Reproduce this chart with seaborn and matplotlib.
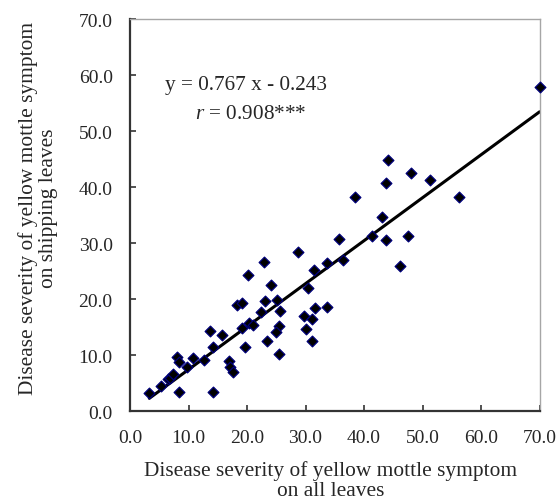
import numpy as np
import pandas as pd
import matplotlib
matplotlib.use("Agg")
import matplotlib.pyplot as plt
import seaborn as sns

# severity on all leaves (x) vs on shipping leaves (y)
all_leaves = [3.3, 5.3, 6.5, 6.8, 7.3, 8.4, 8.0, 8.4, 9.7, 10.7,
              12.7, 13.7, 14.1, 15.7, 14.1, 17.0, 17.1, 17.6, 18.3, 19.1,
              23.0, 25.1, 22.4, 25.7, 19.2, 20.4, 21.1, 25.4, 25.0, 23.4,
              19.7, 25.4, 31.7, 33.7, 29.7, 31.1, 30.1, 31.1, 28.7, 22.9,
              20.1, 24.1, 31.4, 33.7, 30.4, 44.1, 48.1, 51.2, 43.7, 38.4,
              43.1, 35.8, 41.4, 43.7, 47.5, 36.4, 46.1, 56.2, 70.0]
shipping_leaves = [3.2, 4.5, 5.7, 6.0, 6.6, 3.5, 9.6, 8.8, 7.8, 9.5,
                   9.2, 14.3, 11.5, 13.6, 3.5, 8.9, 7.8, 6.9, 19.0, 19.3,
                   19.6, 19.8, 17.7, 17.8, 14.9, 15.8, 15.4, 15.2, 14.2, 12.6,
                   11.5, 10.2, 18.5, 18.6, 16.9, 16.5, 14.6, 12.6, 28.5, 26.7,
                   24.3, 22.5, 25.2, 26.4, 22.0, 44.9, 42.6, 41.2, 40.7, 38.3,
                   34.7, 30.7, 31.2, 30.6, 31.2, 27.0, 25.9, 38.2, 57.8]

slope = 0.767
intercept = -0.243
r_value = 0.908
ticks = np.arange(0, 71, 10)

df = pd.DataFrame({"x": all_leaves, "y": shipping_leaves})
x_fit = np.array([min(all_leaves), max(all_leaves)])
fit = pd.DataFrame({"x": x_fit, "y": slope * x_fit + intercept})

sns.set_style("white")
plt.rcParams["font.family"] = ["Liberation Serif", "DejaVu Serif"]
plt.rcParams["mathtext.fontset"] = "custom"
plt.rcParams["mathtext.rm"] = "Liberation Serif"
plt.rcParams["mathtext.it"] = "Liberation Serif:italic"

fig = plt.figure(figsize=(5.58, 5.02), dpi=100)
ax = fig.add_axes([0.233, 0.179, 0.734, 0.781])

sns.lineplot(data=fit, x="x", y="y", color="black", linewidth=2.2, ax=ax)
sns.scatterplot(data=df, x="x", y="y", marker="D", s=30, color="#000000",
                edgecolor="#00007a", linewidth=0.9, zorder=3, clip_on=False, ax=ax)

ax.set_xlim(0, 70)
ax.set_ylim(0, 70)
ax.set_xticks(ticks)
ax.set_yticks(ticks)
ax.set_xticklabels([f"{t:.1f}" for t in ticks])
ax.set_yticklabels([f"{t:.1f}" for t in ticks])
ax.tick_params(direction="in", length=4, width=1.2, color="#333333",
               labelsize=14, pad=12.5, top=False, right=False,
               bottom=True, left=True)

for side in ["left", "bottom"]:
    ax.spines[side].set_color("#333333")
    ax.spines[side].set_linewidth(1.6)
for side in ["top", "right"]:
    ax.spines[side].set_color("#a6a6a6")
    ax.spines[side].set_linewidth(1.0)

ax.set_xlabel("Disease severity of yellow mottle symptom\non all leaves",
              fontsize=15.4, linespacing=1.05)
ax.set_ylabel("Disease severity of yellow mottle symptom\non shipping leaves",
              fontsize=15.4, linespacing=1.05)
ax.xaxis.set_label_coords(0.49, -0.125)
ax.yaxis.set_label_coords(-0.176, 0.52)

ax.text(19.9, 58.4, f"y = {slope} x - {abs(intercept)}", fontsize=15.3,
        ha="center", va="center")
ax.text(20.7, 53.1, f"$r$ = {r_value}***", fontsize=15.3, ha="center", va="center")

fig.savefig("out.png", dpi=100)
